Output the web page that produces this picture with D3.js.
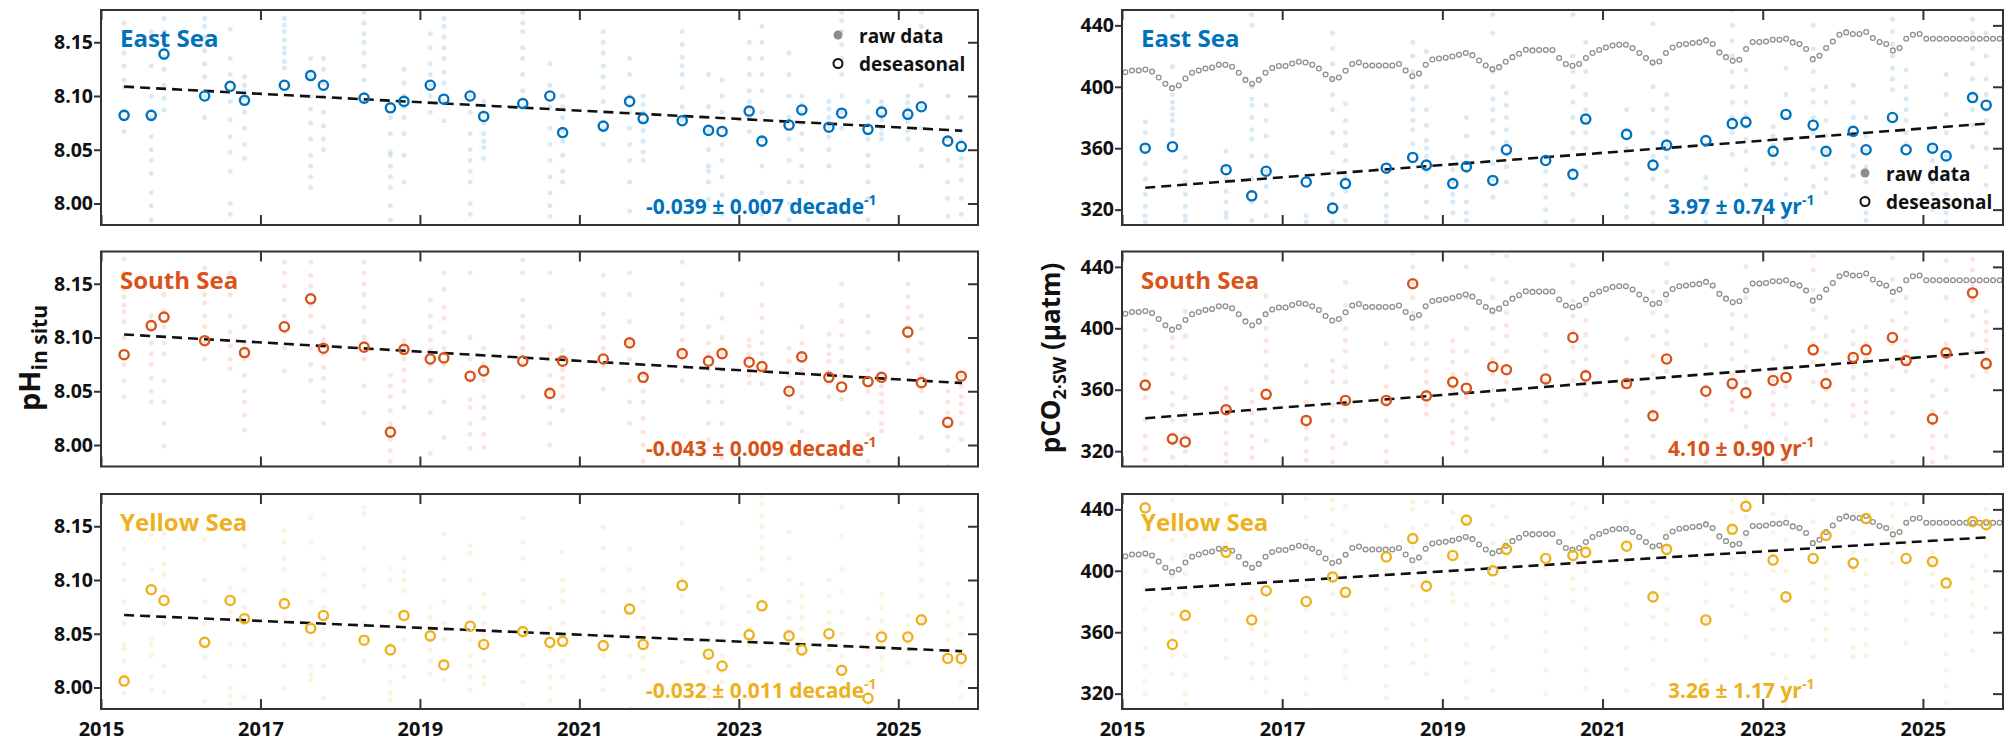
<!DOCTYPE html>
<html lang="en">
<head>
<meta charset="UTF-8">
<title>pH and pCO2 trends, Korean seas</title>
<style>
  body { margin: 0; background: #fff; }
  svg { display: block; }
  svg text { font-family: "Open Sans", "Noto Sans", sans-serif; font-weight: 700; fill: #111; }
  .tick text { font-size: 19.5px; }
  .tick line { stroke: #333; stroke-width: 2; }
</style>
</head>
<body>
<div id="chart"></div>
<script src="https://d3js.org/d3.v7.min.js"></script>
<script>
// ---- data ----
const regions = ["East Sea", "South Sea", "Yellow Sea"];
const regionColors = ["#0072BD", "#D95319", "#EDB120"];

// cruise sampling times (decimal year)
const sampleTimes = [2015.29, 2015.63, 2015.79, 2016.30, 2016.62, 2016.80, 2017.30, 2017.63, 2017.79,
  2018.30, 2018.63, 2018.80, 2019.13, 2019.30, 2019.63, 2019.80, 2020.29, 2020.63, 2020.79,
  2021.30, 2021.63, 2021.80, 2022.29, 2022.62, 2022.79, 2023.13, 2023.29, 2023.63, 2023.79,
  2024.13, 2024.29, 2024.62, 2024.79, 2025.12, 2025.29, 2025.62, 2025.79];

// deseasonalized values (null = no cruise value)
const phEast = [8.082, 8.082, 8.139, 8.100, 8.109, 8.096, 8.110, 8.119, 8.110, 8.098, 8.089, 8.095, 8.110,
  8.097, 8.100, 8.081, 8.093, 8.100, 8.066, 8.072, 8.095, 8.079, 8.077, 8.068, 8.067, 8.086, 8.058,
  8.073, 8.087, 8.071, 8.084, 8.069, 8.085, 8.083, 8.090, 8.058, 8.053];
const phSouth = [8.084, 8.111, 8.119, 8.097, null, 8.086, 8.110, 8.136, 8.090, 8.091, 8.012, 8.089, 8.080,
  8.081, 8.064, 8.069, 8.078, 8.048, 8.078, 8.080, 8.095, 8.063, 8.085, 8.078, 8.085, 8.077, 8.073,
  8.050, 8.082, 8.063, 8.054, 8.059, 8.063, 8.105, 8.058, 8.021, 8.064];
const phYellow = [8.006, 8.091, 8.081, 8.042, 8.081, 8.064, 8.078, 8.055, 8.067, 8.044, 8.035, 8.067, 8.048,
  8.021, 8.057, 8.040, 8.052, 8.042, 8.043, 8.039, 8.073, 8.040, 8.095, 8.031, 8.020, 8.049, 8.076,
  8.048, 8.035, 8.050, 8.016, 7.990, 8.047, 8.047, 8.063, 8.027, 8.027];
const co2East = [360, 361, null, 346, 329, 345, 338, 321, 337, 347, 354, 349, 337, 348, 339, 359, 352, 343,
  379, 369, 349, 362, 365, 376, 377, 358, 382, 375, 358, 371, 359, 380, 359, 360, 355, 393, 388];
const co2South = [363, 328, 326, 347, null, 357, 340, null, 353, 353, 429, 356, 365, 361, 375, 373, 367, 394,
  369, 364, 343, 380, 359, 364, 358, 366, 368, 386, 364, 381, 386, 394, 379, 341, 384, 423, 377];
const co2Yellow = [441, 352, 371, 412, 368, 387, 380, 396, 386, 409, 421, 390, 410, 433, 400, 414, 408, 410,
  412, 416, 383, 414, 368, 427, 442, 407, 383, 408, 423, 405, 434, null, 408, 406, 392, 432, 430];

// raw station data, one list per sampling time
const phRawEast = [
  [8.168, 8.158, 8.150, 8.140, 8.128, 8.115, 8.108, 8.086, 8.067],
  [8.160, 8.128, 8.100, 8.080, 8.062, 8.050, 8.040, 8.028, 8.010, 7.998, 7.985],
  [8.172, 8.160, 8.144, 8.136, 8.125, 8.110, 8.098, 8.087],
  [8.172, 8.165, 8.155, 8.142, 8.130, 8.118, 8.100, 8.080],
  [8.162, 8.135, 8.120, 8.095, 8.078, 8.062, 8.048, 8.030, 8.000, 7.990],
  [8.118, 8.110, 8.104, 8.098, 8.085, 8.070, 8.055, 8.042],
  [8.172, 8.166, 8.160, 8.152, 8.145, 8.140, 8.132, 8.126],
  [8.135, 8.118, 8.100, 8.088, 8.075, 8.060, 8.045, 8.035, 8.025, 8.015],
  [8.135, 8.125, 8.112, 8.100, 8.085, 8.072, 8.060, 8.050],
  [8.178, 8.168, 8.158, 8.150, 8.140, 8.128, 8.115, 8.095],
  [8.080, 8.065, 8.048, 8.045, 8.035, 8.025, 8.015, 7.998, 7.985],
  [8.125, 8.112, 8.100, 8.090, 8.080, 8.065, 8.045, 8.020],
  [8.158, 8.145, 8.130, 8.120, 8.110, 8.100, 8.085],
  [8.172, 8.165, 8.155, 8.145, 8.135, 8.122, 8.112, 8.095, 8.077],
  [8.100, 8.085, 8.065, 8.050, 8.040, 8.030, 8.020, 8.000, 7.990],
  [8.095, 8.085, 8.075, 8.065, 8.058, 8.052, 8.042],
  [8.178, 8.168, 8.160, 8.145, 8.135, 8.120, 8.105, 8.090],
  [8.130, 8.110, 8.090, 8.070, 8.055, 8.040, 8.025, 8.010, 7.998, 7.988],
  [8.100, 8.090, 8.080, 8.068, 8.058, 8.045, 8.030, 8.020],
  [8.160, 8.150, 8.140, 8.128, 8.118, 8.108, 8.095, 8.070, 8.055],
  [8.135, 8.120, 8.100, 8.085, 8.070, 8.055, 8.040, 8.020, 7.993],
  [8.100, 8.092, 8.085, 8.076, 8.068, 8.058, 8.048, 8.040],
  [8.160, 8.148, 8.136, 8.128, 8.120, 8.108, 8.090, 8.078],
  [8.120, 8.090, 8.068, 8.050, 8.035, 8.030, 8.020, 8.004],
  [8.115, 8.100, 8.085, 8.070, 8.055, 8.040, 8.025, 8.008, 7.990],
  [8.150, 8.135, 8.120, 8.105, 8.095, 8.088, 8.080, 8.067],
  [8.165, 8.150, 8.135, 8.120, 8.105, 8.085, 8.060, 8.035, 8.010, 7.990],
  [8.140, 8.120, 8.100, 8.080, 8.060, 8.040, 8.020, 8.000, 7.985],
  [8.100, 8.092, 8.085, 8.075, 8.065, 8.050, 8.035, 8.020],
  [8.095, 8.088, 8.080, 8.072, 8.062, 8.050, 8.035],
  [8.178, 8.170, 8.160, 8.148, 8.135, 8.120, 8.100, 8.085, 8.070],
  [8.095, 8.080, 8.060, 8.045, 8.035, 8.020, 8.005, 7.985],
  [8.095, 8.090, 8.083, 8.078, 8.070, 8.065, 8.060],
  [8.100, 8.094, 8.088, 8.082, 8.076, 8.068, 8.060],
  [8.178, 8.165, 8.150, 8.130, 8.110, 8.090, 8.070, 8.050, 8.035],
  [8.128, 8.100, 8.080, 8.060, 8.040, 8.020, 8.005, 7.988],
  [8.080, 8.068, 8.058, 8.050, 8.042, 8.035, 8.022, 8.005, 7.990]
];
const phRawSouth = [
  [8.173, 8.160, 8.145, 8.138, 8.130, 8.124, 8.115, 8.100, 8.075, 8.060, 8.045],
  [8.120, 8.108, 8.095, 8.085, 8.075, 8.062, 8.050, 8.040],
  [8.140, 8.125, 8.110, 8.095, 8.085, 8.060, 8.040, 8.020, 7.999],
  [8.165, 8.150, 8.140, 8.132, 8.120, 8.110, 8.095, 8.080],
  [8.160, 8.140, 8.120, 8.105, 8.092, 8.080, 8.071],
  [8.110, 8.095, 8.080, 8.065, 8.050, 8.040, 8.028, 8.014],
  [8.170, 8.160, 8.148, 8.135, 8.120, 8.105, 8.090, 8.069],
  [8.170, 8.158, 8.148, 8.130, 8.120, 8.105, 8.090, 8.075, 8.060],
  [8.110, 8.098, 8.085, 8.072, 8.062, 8.050, 8.040, 8.020],
  [8.170, 8.160, 8.150, 8.140, 8.128, 8.115, 8.100, 8.080, 8.055, 8.030],
  [8.065, 8.055, 8.045, 8.032, 8.020, 8.005, 7.995, 7.985],
  [8.097, 8.090, 8.080, 8.070, 8.060, 8.050, 8.035],
  [8.135, 8.120, 8.110, 8.098, 8.088, 8.075, 8.060, 8.030, 7.992],
  [8.160, 8.145, 8.128, 8.118, 8.105, 8.090, 8.075, 8.040, 8.007],
  [8.160, 8.100, 8.080, 8.060, 8.042, 8.035, 8.020, 8.010, 7.997],
  [8.090, 8.075, 8.060, 8.045, 8.035, 8.025, 8.010, 7.998],
  [8.172, 8.160, 8.135, 8.120, 8.110, 8.100, 8.090, 8.075, 8.045],
  [8.160, 8.110, 8.085, 8.065, 8.050, 8.035, 8.020, 8.000],
  [8.088, 8.080, 8.070, 8.062, 8.055, 8.045, 8.032],
  [8.158, 8.140, 8.122, 8.110, 8.100, 8.090, 8.075, 8.052],
  [8.160, 8.140, 8.115, 8.095, 8.080, 8.060, 8.040, 8.020],
  [8.065, 8.050, 8.040, 8.025, 8.012, 8.000, 7.985],
  [8.170, 8.150, 8.135, 8.122, 8.110, 8.098, 8.085, 8.060],
  [8.110, 8.095, 8.085, 8.070, 8.055, 8.040, 8.020, 8.005],
  [8.140, 8.118, 8.100, 8.085, 8.070, 8.055, 8.040, 8.020, 7.988],
  [8.098, 8.092, 8.085, 8.080, 8.072, 8.065, 8.058],
  [8.150, 8.130, 8.118, 8.105, 8.095, 8.085, 8.072, 8.057],
  [8.090, 8.078, 8.065, 8.050, 8.035, 8.020, 8.002],
  [8.110, 8.095, 8.082, 8.070, 8.058, 8.045, 8.030, 8.013],
  [8.103, 8.092, 8.085, 8.078, 8.068, 8.058, 8.045],
  [8.150, 8.130, 8.115, 8.102, 8.090, 8.078, 8.065, 8.043],
  [8.120, 8.105, 8.090, 8.070, 8.050, 8.030, 8.010, 7.985],
  [8.063, 8.055, 8.048, 8.040, 8.030, 8.020, 8.013],
  [8.150, 8.138, 8.128, 8.118, 8.110, 8.100, 8.088, 8.076],
  [8.120, 8.108, 8.095, 8.080, 8.065, 8.050, 8.030, 8.007],
  [8.050, 8.040, 8.030, 8.018, 8.008, 7.995, 7.980],
  [8.065, 8.055, 8.045, 8.038, 8.030, 8.020, 8.005]
];
const phRawYellow = [
  [8.129, 8.115, 8.100, 8.080, 8.060, 8.040, 8.036, 8.025, 8.012, 7.995],
  [8.142, 8.110, 8.095, 8.070, 8.045, 8.040, 8.030, 8.010, 7.998],
  [8.143, 8.130, 8.115, 8.105, 8.090, 8.060, 8.020, 7.996],
  [8.138, 8.100, 8.080, 8.060, 8.040, 8.028, 8.010, 7.987],
  [8.092, 8.070, 8.040, 8.020, 8.000, 7.992, 7.985, 7.980],
  [8.132, 8.110, 8.090, 8.075, 8.060, 8.040, 8.020, 7.991],
  [8.146, 8.135, 8.120, 8.110, 8.090, 8.065, 8.040, 8.020, 7.999],
  [8.158, 8.135, 8.080, 8.060, 8.040, 8.020, 8.012, 8.007],
  [8.120, 8.105, 8.090, 8.075, 8.055, 8.040, 8.020, 7.990],
  [8.168, 8.162, 8.130, 8.110, 8.095, 8.075, 8.060, 8.045, 8.025],
  [8.110, 8.100, 8.070, 8.040, 8.020, 8.005, 7.995, 7.988],
  [8.120, 8.108, 8.100, 8.090, 8.070, 8.045, 8.020, 8.010],
  [8.075, 8.065, 8.055, 8.045, 8.035, 8.025, 8.013],
  [8.143, 8.120, 8.100, 8.080, 8.060, 8.045, 8.025, 8.007],
  [8.132, 8.125, 8.100, 8.075, 8.045, 8.030, 8.020, 8.010, 7.998],
  [8.087, 8.075, 8.060, 8.050, 8.040, 8.025, 8.010, 8.003],
  [8.158, 8.135, 8.120, 8.100, 8.080, 8.055, 8.030, 8.005, 7.984],
  [8.074, 8.055, 8.035, 8.020, 8.010, 8.000, 7.988],
  [8.126, 8.100, 8.090, 8.080, 8.060, 8.040, 8.025, 8.010],
  [8.149, 8.130, 8.110, 8.090, 8.070, 8.050, 8.030, 8.010, 7.998],
  [8.129, 8.110, 8.090, 8.070, 8.050, 8.030, 8.010, 7.981],
  [8.092, 8.080, 8.065, 8.055, 8.040, 8.028, 8.016],
  [8.153, 8.130, 8.115, 8.100, 8.085, 8.070, 8.050, 8.024],
  [8.060, 8.045, 8.030, 8.015, 8.000, 7.990, 7.980],
  [8.092, 8.075, 8.060, 8.045, 8.030, 8.015, 8.005, 7.995],
  [8.100, 8.085, 8.070, 8.055, 8.040, 8.020, 8.005, 7.990],
  [8.178, 8.170, 8.160, 8.150, 8.140, 8.130, 8.120, 8.110],
  [8.145, 8.120, 8.100, 8.080, 8.065, 8.050, 8.035, 8.020],
  [8.096, 8.085, 8.075, 8.065, 8.055, 8.045, 8.031],
  [8.100, 8.085, 8.070, 8.060, 8.045, 8.035, 8.020],
  [8.168, 8.140, 8.110, 8.090, 8.070, 8.050, 8.030, 8.007],
  [8.064, 8.050, 8.035, 8.020, 8.005, 7.995, 7.982],
  [8.087, 8.075, 8.062, 8.052, 8.040, 8.028, 8.016],
  [8.067, 8.058, 8.050, 8.042, 8.035, 8.023],
  [8.165, 8.150, 8.140, 8.128, 8.115, 8.100, 8.085, 8.063],
  [8.097, 8.085, 8.070, 8.058, 8.045, 8.035, 8.028],
  [8.078, 8.065, 8.050, 8.035, 8.020, 8.005, 7.991]
];
const co2RawEast = [
  [377, 370, 362, 350, 340, 330, 322, 316, 312],
  [446, 413, 395, 390, 386, 382, 378, 372, 369],
  [354, 345, 338, 330, 322, 316, 313],
  [358, 348, 340, 332, 325, 318, 315],
  [447, 440, 400, 392, 388, 380, 372, 366, 355, 340, 325, 313],
  [388, 378, 368, 355, 345, 335, 325, 316],
  [316, 312, 308],
  [435, 425, 415, 405, 395, 385, 370, 357, 345, 330, 318, 312],
  [389, 378, 370, 362, 352, 342, 332, 322, 313],
  [338, 330, 322, 316, 312],
  [429, 420, 410, 400, 392, 385, 378, 372, 363],
  [423, 400, 385, 375, 365, 360, 355, 345, 335, 325, 315],
  [354, 346, 338, 330, 325, 318],
  [380, 368, 355, 345, 335, 325, 318, 313],
  [447, 435, 410, 400, 392, 385, 378, 370, 360, 350, 340, 328],
  [396, 388, 380, 372, 364, 356, 348, 338],
  [354, 345, 336, 328, 320, 312],
  [447, 420, 410, 400, 390, 380, 370, 360, 345, 330, 313],
  [429, 410, 395, 385, 378, 370, 360, 348, 336],
  [385, 372, 360, 350, 340, 330, 322, 315],
  [441, 415, 400, 385, 370, 355, 340, 328, 318, 311],
  [395, 386, 378, 370, 362, 354, 345, 335],
  [341, 334, 326, 318, 312],
  [450, 440, 430, 420, 410, 400, 390, 380, 370, 356],
  [411, 400, 390, 382, 374, 366, 358, 346, 336],
  [374, 368, 362, 356, 350],
  [412, 395, 380, 365, 350, 340, 330, 320, 312],
  [440, 425, 410, 398, 390, 380, 370, 360, 348, 335],
  [400, 390, 378, 368, 358, 350, 340, 331],
  [401, 390, 380, 370, 362, 355, 348, 342],
  [380, 368, 358, 348, 338, 328, 318, 313],
  [444, 436, 428, 420, 412, 405, 398],
  [411, 400, 392, 385, 378, 370, 363],
  [361, 352, 345, 338, 330, 320],
  [408, 395, 382, 370, 355, 342, 330, 318, 312],
  [444, 435, 425, 415, 405, 395, 385, 375, 361],
  [435, 420, 405, 395, 385, 378, 370, 360, 348, 336]
];
const co2RawSouth = [
  [399, 388, 380, 370, 355, 340, 330, 322, 314],
  [394, 388, 380, 370, 358, 350, 340, 325, 316],
  [411, 395, 380, 368, 355, 345, 340, 330, 320, 310],
  [361, 355, 348, 340, 332, 325, 318, 313],
  [360, 352, 345, 338, 330, 322, 316],
  [421, 410, 400, 392, 385, 376, 368, 355, 340, 327],
  [376, 365, 352, 342, 335, 328, 320, 314],
  [379, 372, 365, 350, 340, 330, 322, 313],
  [430, 415, 400, 392, 385, 375, 365, 352, 340, 325],
  [390, 375, 362, 350, 340, 330, 320, 313],
  [449, 440, 430, 420, 410, 400, 390, 380],
  [401, 390, 380, 372, 365, 358, 350, 344],
  [392, 385, 378, 370, 360, 350, 340, 332, 325],
  [440, 420, 400, 385, 370, 355, 345, 335, 328, 320],
  [449, 432, 420, 410, 400, 390, 380, 370, 360, 350, 341],
  [447, 430, 410, 402, 395, 385, 375, 365, 353],
  [396, 385, 375, 365, 352, 340, 330, 320],
  [441, 430, 418, 408, 398, 388, 378, 366],
  [416, 405, 396, 388, 380, 372, 364, 357],
  [393, 378, 365, 352, 340, 330, 322, 314],
  [424, 410, 395, 382, 370, 358, 345, 330, 316],
  [442, 430, 418, 408, 398, 390, 380, 372],
  [389, 375, 362, 350, 340, 330, 320, 313],
  [409, 400, 390, 380, 370, 360, 352, 347],
  [440, 420, 408, 395, 385, 375, 365, 355, 345, 336],
  [380, 373, 366, 358, 350, 344],
  [388, 375, 362, 350, 338, 328, 320, 313],
  [447, 438, 425, 412, 400, 390, 378, 365, 352],
  [407, 395, 384, 372, 360, 350, 340, 325],
  [398, 390, 382, 375, 368, 360, 350, 343],
  [401, 390, 380, 370, 360, 352, 345, 338, 330],
  [446, 432, 418, 405, 390, 375, 360, 345, 330, 313],
  [420, 410, 400, 392, 385, 378, 372],
  [366, 356, 346, 338, 330, 322, 313],
  [444, 432, 420, 405, 390, 375, 360, 345, 330, 316],
  [445, 438, 428, 418, 408, 396, 385, 369],
  [411, 404, 398, 392, 386, 380, 372]
];
const co2RawYellow = [
  [422, 410, 400, 388, 375, 362, 350, 338, 328, 320],
  [446, 432, 420, 408, 396, 385, 372, 360, 345, 333],
  [423, 410, 398, 385, 372, 360, 345, 332, 320, 313],
  [443, 430, 418, 405, 392, 380, 368, 355, 343],
  [402, 392, 382, 372, 362, 352, 340, 330],
  [385, 375, 366, 358, 348, 340, 330, 321],
  [447, 435, 420, 405, 390, 375, 360, 345, 330, 320, 310],
  [446, 440, 430, 420, 410, 398, 385, 372, 358],
  [442, 425, 410, 398, 385, 372, 360, 348, 338, 330],
  [429, 415, 400, 388, 375, 362, 350, 338, 325, 317],
  [445, 440, 428, 415, 402, 390, 378, 365, 352, 340],
  [445, 430, 418, 405, 392, 380, 368, 355, 345, 333],
  [438, 428, 420, 410, 400, 392, 385, 380],
  [431, 420, 405, 392, 378, 365, 352, 340, 328, 317],
  [442, 430, 418, 405, 392, 378, 365, 350, 335, 322],
  [450, 435, 420, 410, 400, 390, 380, 368, 357],
  [402, 392, 382, 372, 360, 348, 335, 320],
  [444, 435, 425, 415, 405, 395, 388, 380],
  [441, 428, 415, 400, 388, 375, 362, 350, 335, 323],
  [445, 432, 418, 405, 392, 378, 365, 350, 336, 322],
  [445, 430, 415, 400, 385, 370, 356, 342, 326],
  [435, 425, 415, 405, 395, 385, 375, 365, 355],
  [430, 418, 405, 392, 380, 368, 355, 342, 329],
  [446, 438, 428, 418, 408, 398, 388, 377],
  [447, 435, 422, 410, 398, 386, 372, 357],
  [437, 425, 412, 400, 388, 375, 362, 346],
  [450, 435, 420, 400, 380, 362, 345, 330, 312],
  [446, 432, 418, 405, 392, 380, 368, 355, 344],
  [405, 396, 388, 380, 372, 362, 355],
  [437, 425, 412, 400, 388, 375, 362, 350, 344],
  [407, 398, 390, 380, 372, 362, 352, 345],
  [444, 436, 428, 420, 412, 405],
  [443, 430, 418, 405, 392, 380, 368, 353],
  [420, 412, 405, 398, 390, 380, 372],
  [381, 370, 358, 346, 335, 325, 314],
  [403, 395, 386, 378, 370, 360, 348],
  [450, 440, 430, 420, 410, 400, 390, 376]
];

// monthly atmospheric CO2 (grey dots), Jan 2015 .. Dec 2025
const atmCO2 = [
  409.5, 410.6, 410.6, 411.2, 409.9, 406.0, 401.9, 399.1, 400.8, 405.4, 409.1, 410.6,
  411.9, 412.5, 414.3, 414.3, 413.0, 409.1, 404.5, 401.9, 404.5, 409.1, 412.2, 413.5,
  413.5, 415.2, 416.3, 415.8, 414.3, 411.9, 408.0, 405.0, 406.0, 410.4, 414.8, 415.8,
  413.9, 413.9, 413.9, 413.9, 413.9, 414.8, 410.6, 406.9, 408.6, 414.3, 417.8, 418.4,
  418.9, 419.7, 420.8, 422.0, 420.6, 417.1, 413.9, 411.5, 412.8, 416.3, 419.3, 421.5,
  424.1, 423.7, 423.9, 423.9, 423.9, 418.7, 414.8, 413.7, 414.8, 418.7, 422.0, 424.0,
  425.6, 426.9, 427.4, 427.4, 425.2, 422.0, 418.7, 415.8, 416.5, 422.0, 425.6, 427.4,
  427.8, 428.5, 428.9, 430.2, 427.8, 422.4, 419.3, 416.9, 417.6, 424.6, 429.1, 429.1,
  429.5, 430.6, 430.6, 431.3, 428.9, 427.8, 424.6, 418.0, 420.2, 425.2, 429.5, 433.9,
  435.4, 434.4, 434.4, 435.7, 431.8, 429.1, 427.8, 423.7, 425.2, 431.3, 433.9, 434.4,
  431.3, 431.3, 431.3, 431.3, 431.3, 431.3, 431.3, 431.3, 431.3, 431.3, 431.3, 431.3
];

// linear trends: value at trendYears[0] and slope per year
const trendYears = [2015.29, 2025.80];
const phTrendStart = [8.1087, 8.1028, 8.0674];
const phTrendSlope = [-0.0039, -0.0043, -0.0032];
const co2TrendStart = [334.3, 341.4, 387.5];
const co2TrendSlope = [3.97, 4.10, 3.26];
const phTrendLabels = ["-0.039 ± 0.007", "-0.043 ± 0.009", "-0.032 ± 0.011"];
const co2TrendLabels = ["3.97 ± 0.74", "4.10 ± 0.90", "3.26 ± 1.17"];

const yearDomain = [2015, 2026];
const yearTicks = [2015, 2017, 2019, 2021, 2023, 2025];
const phDomain = [7.98, 8.18];
const phTicks = [8.00, 8.05, 8.10, 8.15];
const co2Domain = [310, 450];
const co2Ticks = [320, 360, 400, 440];

// ---- layout ----
const width = 2015, height = 741;
const layout = { leftX: [101, 978], rightX: [1122, 2003], tops: [10, 251.5, 494], h: 215 };

const svg = d3.select("#chart").append("svg")
    .attr("width", width)
    .attr("height", height);
const defs = svg.append("defs");

const phDes = [phEast, phSouth, phYellow];
const co2Des = [co2East, co2South, co2Yellow];
const phRaw = [phRawEast, phRawSouth, phRawYellow];
const co2Raw = [co2RawEast, co2RawSouth, co2RawYellow];

const panels = [];
regions.forEach((name, r) => {
    panels.push({ kind: "ph", r, name, raw: phRaw[r], des: phDes[r], t0: phTrendStart[r],
        slope: phTrendSlope[r], label: phTrendLabels[r], unit: " decade" });
    panels.push({ kind: "co2", r, name, raw: co2Raw[r], des: co2Des[r], t0: co2TrendStart[r],
        slope: co2TrendSlope[r], label: co2TrendLabels[r], unit: " yr" });
});

panels.forEach(drawPanel);

function drawPanel(p) {
    const isPh = p.kind === "ph";
    const [x0, x1] = isPh ? layout.leftX : layout.rightX;
    const top = layout.tops[p.r], bottom = top + layout.h;
    const color = regionColors[p.r];

    const x = d3.scaleLinear().domain(yearDomain).range([x0, x1]);
    const y = d3.scaleLinear().domain(isPh ? phDomain : co2Domain).range([bottom, top]);

    const clipId = "clip-" + p.kind + "-" + p.r;
    defs.append("clipPath").attr("id", clipId)
      .append("rect")
        .attr("x", x0).attr("y", top)
        .attr("width", x1 - x0).attr("height", layout.h);

    const g = svg.append("g").attr("clip-path", "url(#" + clipId + ")");

    // raw data columns
    const rawPts = [];
    p.raw.forEach((col, j) => col.forEach(v => rawPts.push({ t: sampleTimes[j], v })));
    g.selectAll(".raw").data(rawPts).join("circle")
        .attr("class", "raw")
        .attr("cx", d => x(d.t))
        .attr("cy", d => y(d.v))
        .attr("r", 2.5)
        .style("fill", color)
        .style("fill-opacity", 0.15);

    // atmospheric CO2
    if (!isPh) {
        g.selectAll(".atm").data(atmCO2).join("circle")
            .attr("class", "atm")
            .attr("cx", (d, i) => x(yearDomain[0] + (i + 0.5) / 12))
            .attr("cy", d => y(d))
            .attr("r", 2.4)
            .style("fill", "none")
            .style("stroke", "#8f8f8f")
            .style("stroke-width", 1.3);
    }

    // trend line
    const trend = trendYears.map(t => [t, p.t0 + p.slope * (t - trendYears[0])]);
    g.append("path")
        .attr("d", d3.line().x(d => x(d[0])).y(d => y(d[1]))(trend))
        .style("fill", "none")
        .style("stroke", "#111")
        .style("stroke-width", 2.6)
        .style("stroke-dasharray", "10,6");

    // deseasonal values
    const des = p.des.map((v, j) => ({ t: sampleTimes[j], v })).filter(d => d.v !== null);
    g.selectAll(".des").data(des).join("circle")
        .attr("class", "des")
        .attr("cx", d => x(d.t))
        .attr("cy", d => y(d.v))
        .attr("r", 4.6)
        .style("fill", "none")
        .style("stroke", color)
        .style("stroke-width", 2.4);

    // axes
    const ticks = isPh ? phTicks : co2Ticks;
    const fmt = isPh ? d3.format(".2f") : d3.format("d");
    const noDomain = sel => sel.select(".domain").remove();

    svg.append("g").attr("transform", "translate(" + x0 + ",0)")
        .call(d3.axisLeft(y).tickValues(ticks).tickSize(7).tickPadding(1).tickFormat(fmt))
        .call(noDomain);
    svg.append("g").attr("transform", "translate(" + x1 + ",0)")
        .call(d3.axisLeft(y).tickValues(ticks).tickSize(10).tickFormat(""))
        .call(noDomain);
    svg.append("g").attr("transform", "translate(0," + top + ")")
        .call(d3.axisBottom(x).tickValues(yearTicks).tickSize(10).tickFormat(""))
        .call(noDomain);
    svg.append("g").attr("transform", "translate(0," + bottom + ")")
        .call(d3.axisTop(x).tickValues(yearTicks).tickSize(10).tickFormat(""))
        .call(noDomain);

    if (p.r === regions.length - 1) {
        const lab = svg.append("g").attr("transform", "translate(0," + bottom + ")")
            .call(d3.axisBottom(x).tickValues(yearTicks).tickSize(0).tickPadding(13).tickFormat(d3.format("d")))
            .call(noDomain);
        lab.selectAll("text").style("font-size", "20px");
    }

    // frame
    svg.append("rect")
        .attr("x", x0).attr("y", top)
        .attr("width", x1 - x0).attr("height", layout.h)
        .style("fill", "none")
        .style("stroke", "#333")
        .style("stroke-width", 2);

    // sea name
    svg.append("text")
        .attr("x", x0 + 19).attr("y", top + 37)
        .style("font-size", "24px")
        .style("fill", color)
        .text(p.name);

    // trend label
    const tl = svg.append("text")
        .attr("x", isPh ? 646 : 1668)
        .attr("y", top + 204)
        .style("font-size", "21px")
        .style("fill", color);
    tl.append("tspan").text(p.label + p.unit);
    tl.append("tspan").attr("dy", -9).style("font-size", "14px").text("-1");
}

// legends
function legend(lx, ly) {
    const lg = svg.append("g").attr("transform", "translate(" + lx + "," + ly + ")");
    lg.append("circle").attr("cx", 0).attr("cy", 0).attr("r", 4.5).style("fill", "#8c8c8c");
    lg.append("text").attr("x", 21).attr("y", 8).style("font-size", "19px").text("raw data");
    lg.append("circle").attr("cx", 0).attr("cy", 28.5).attr("r", 4.5)
        .style("fill", "none").style("stroke", "#111").style("stroke-width", 2);
    lg.append("text").attr("x", 21).attr("y", 36).style("font-size", "19px").text("deseasonal");
}
legend(layout.leftX[1] - 140, layout.tops[0] + 25);
legend(layout.rightX[1] - 138, layout.tops[0] + 163);

// y axis titles
const phTitle = svg.append("text")
    .attr("transform", "translate(40,358) rotate(-90)")
    .attr("text-anchor", "middle");
phTitle.append("tspan").style("font-size", "29px").text("pH");
phTitle.append("tspan").attr("dy", 7).style("font-size", "21px").text("in situ");

const co2Title = svg.append("text")
    .attr("transform", "translate(1060,358) rotate(-90)")
    .attr("text-anchor", "middle");
co2Title.append("tspan").style("font-size", "26px").text("pCO");
co2Title.append("tspan").attr("dy", 6).style("font-size", "18px").text("2·SW");
co2Title.append("tspan").attr("dy", -6).style("font-size", "26px").text(" (µatm)");
</script>
</body>
</html>
